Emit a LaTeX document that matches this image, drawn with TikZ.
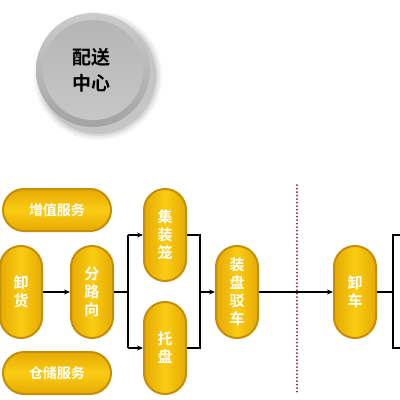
\documentclass[tikz,border=0pt]{standalone}
\usepackage{fontspec}
\newfontfamily\cjk{Noto Sans CJK SC}[BoldFont={Noto Sans CJK SC Bold}]
\usetikzlibrary{arrows.meta}
\definecolor{golddark}{RGB}{196,142,6}
\definecolor{goldmid}{RGB}{230,170,0}
\definecolor{goldlight}{RGB}{250,204,20}
\definecolor{dotred}{RGB}{150,20,36}
\tikzset{
  vpill/.style={draw=golddark, line width=2pt, left color=goldmid, right color=goldmid, middle color=goldlight,
    minimum width=42pt, minimum height=92pt, rounded corners=21pt, inner sep=0pt,
    text=white, align=center, font=\cjk\bfseries\fontsize{15}{18}\selectfont},
  hpill/.style={draw=golddark, line width=2pt, top color=goldmid, bottom color=goldmid, middle color=goldlight,
    minimum width=108pt, minimum height=42pt, rounded corners=21pt, inner sep=0pt,
    text=white, font=\cjk\bfseries\fontsize{14}{18}\selectfont},
  ln/.style={line width=1.5pt, black},
  arr/.style={ln, -{Stealth[length=6pt,width=5pt]}}
}
\begin{document}
\begin{tikzpicture}[x=1pt,y=-1pt]
  \useasboundingbox (0,0) rectangle (400,400);

  % button
  \foreach \r/\o in {64/0.04,62/0.05,60/0.07,58/0.09}
    \fill[black,opacity=\o] (98,76) circle (\r);
  \shade[top color=gray!40, bottom color=gray!72] (93,70) circle (57);
  \shade[top color=gray!58, bottom color=gray!44] (93,70) circle (50);
  \node[font=\cjk\bfseries\fontsize{19}{26}\selectfont, align=center] at (92,70) (pszx) {配送\\中心};

  \node[hpill] at (57,210) (zzfw) {增值服务};
  \node[hpill] at (57,373) (ccfw) {仓储服务};
  \node[vpill] at (21,292) (xh) {卸\\货};
  \node[vpill] at (92,292) (flx) {分\\路\\向};
  \node[vpill] at (165,235) (jzl) {集\\装\\笼};
  \node[vpill] at (165,348) (tp) {托\\盘};
  \node[vpill] at (237,292) (zpbc) {装\\盘\\驳\\车};
  \node[vpill] at (355,292) (xc) {卸\\车};

  \draw[dotred, line width=2pt, dash pattern=on 0pt off 3.5pt, line cap=round] (297,185) -- (297,393);

  \coordinate (fk) at (128,292);
  \coordinate (hb) at (200,292);
  \coordinate (rb) at (393,292);
  \coordinate (rt) at (400,235);
  \coordinate (rd) at (400,348);

  \draw[arr] (xh) -- (flx);
  \draw[ln] (flx) -- (fk);
  \draw[ln] (fk |- jzl) -- (fk |- tp);
  \draw[arr] (fk |- jzl) -- (jzl);
  \draw[arr] (fk |- tp) -- (tp);
  \draw[ln] (jzl) -- (hb |- jzl) -- (hb |- tp) -- (tp);
  \draw[arr] (hb) -- (zpbc);
  \draw[arr] (zpbc) -- (xc);
  \draw[ln] (xc) -- (rb);
  \draw[ln] (rt) -- (rt -| rb) -- (rd -| rb) -- (rd);
\end{tikzpicture}
\end{document}
